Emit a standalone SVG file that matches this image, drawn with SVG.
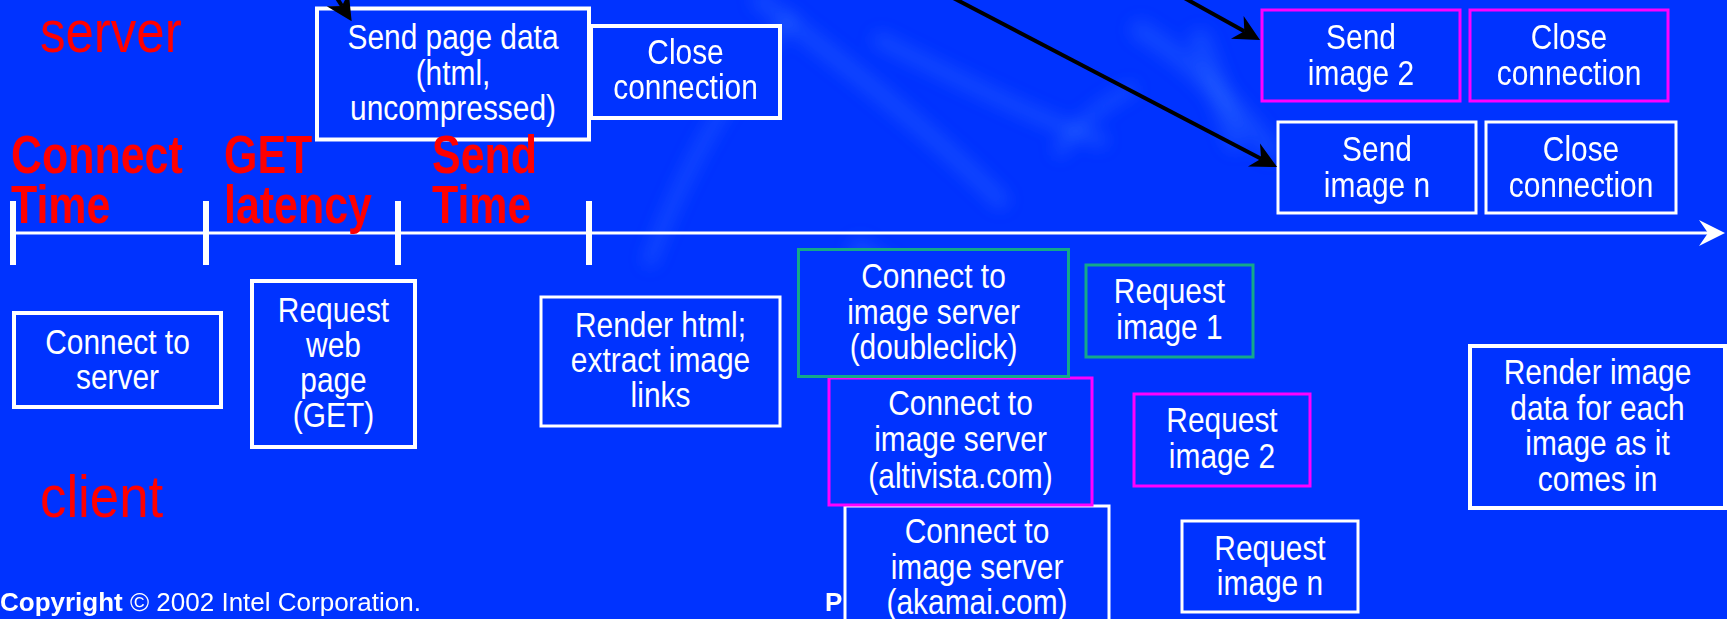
<svg xmlns="http://www.w3.org/2000/svg" width="1727" height="619" viewBox="0 0 1727 619">
  <style>
    .bg { fill: #0033ff; }
    .box { fill: #0033ff; stroke: #ffffff; stroke-width: 4; }
    .box.thin { stroke-width: 3; }
    .box.mag { stroke: #ff00ff; stroke-width: 3; }
    .box.teal { stroke: #14a88a; stroke-width: 3; }
    .bx { font-family: "Liberation Sans", Arial, sans-serif; font-size: 36px; fill: #ffffff; text-anchor: middle; }
    .side { font-family: "Liberation Sans", Arial, sans-serif; font-size: 60px; fill: #ff0000; }
    .phase { font-family: "Liberation Sans", Arial, sans-serif; font-size: 53px; font-weight: bold; fill: #ff0000; }
    .foot { font-family: "Liberation Sans", Arial, sans-serif; font-size: 26px; fill: #ffffff; }
    .tick { fill: #ffffff; }
    .axis { stroke: #ffffff; stroke-width: 3; fill: none; }
    .flow { stroke: #000000; stroke-width: 4; fill: none; }
    .swirl { fill: none; stroke: #4d8cff; stroke-linecap: round; opacity: 0.22; }
  </style>
  <defs>
    <marker id="arrowBlack" markerUnits="userSpaceOnUse" viewBox="-10 -14 28 28" markerWidth="28" markerHeight="28" refX="0" refY="0" orient="auto">
      <path d="M18,0 L-8,-13 L0,0 L-8,13 Z" fill="#000000"/>
    </marker>
    <marker id="arrowAxis" markerUnits="userSpaceOnUse" viewBox="-10 -14 28 28" markerWidth="28" markerHeight="28" refX="0" refY="0" orient="auto">
      <path d="M17,0 L-9,-13 L0,0 L-9,13 Z" fill="#ffffff"/>
    </marker>
    <filter id="soft" x="-20%" y="-20%" width="140%" height="140%">
      <feGaussianBlur stdDeviation="8"/>
    </filter>
  </defs>

  <!-- slide background with faint ribbon texture -->
  <rect class="bg" x="0" y="0" width="1727" height="619"/>
  <g id="texture" filter="url(#soft)">
    <path class="swirl" stroke-width="18" d="M760,0 C840,60 930,130 1000,200"/>
    <path class="swirl" stroke-width="16" d="M880,40 C960,80 1040,120 1100,140"/>
    <path class="swirl" stroke-width="20" d="M1140,30 C1190,60 1240,110 1270,150"/>
    <path class="swirl" stroke-width="14" d="M1060,150 C1080,120 1110,100 1130,90"/>
    <path class="swirl" stroke-width="14" d="M650,260 C680,180 720,100 790,20"/>
    <path class="swirl" stroke-width="22" d="M1200,40 C1215,80 1225,110 1235,140"/>
    <path class="swirl" stroke-width="24" d="M860,250 C900,280 940,300 990,320"/>
  </g>

  <!-- time axis -->
  <g id="timeline">
    <path class="axis" d="M13,233 H1708" marker-end="url(#arrowAxis)"/>
    <rect class="tick" x="10" y="201" width="6" height="64"/>
    <rect class="tick" x="203" y="201" width="6" height="64"/>
    <rect class="tick" x="395" y="201" width="6" height="64"/>
    <rect class="tick" x="586" y="201" width="6" height="64"/>
  </g>

  <!-- server side -->
  <g id="send-page-data">
    <rect class="box" x="317" y="8.5" width="272" height="131"/>
    <g transform="translate(453 0) scale(0.83 1)">
      <text class="bx"><tspan x="0" y="49">Send page data</tspan><tspan x="0" y="85">(html,</tspan><tspan x="0" y="120">uncompressed)</tspan></text>
    </g>
  </g>
  <g id="close-connection-page">
    <rect class="box" x="591" y="26" width="189" height="92"/>
    <g transform="translate(685.5 0) scale(0.83 1)">
      <text class="bx"><tspan x="0" y="64.5">Close</tspan><tspan x="0" y="99.5">connection</tspan></text>
    </g>
  </g>
  <g id="send-image-2">
    <rect class="box mag" x="1262" y="10" width="198" height="91"/>
    <g transform="translate(1361 0) scale(0.83 1)">
      <text class="bx"><tspan x="0" y="49">Send</tspan><tspan x="0" y="85">image 2</tspan></text>
    </g>
  </g>
  <g id="close-connection-2">
    <rect class="box mag" x="1470" y="10" width="198" height="91"/>
    <g transform="translate(1569 0) scale(0.83 1)">
      <text class="bx"><tspan x="0" y="49">Close</tspan><tspan x="0" y="85">connection</tspan></text>
    </g>
  </g>
  <g id="send-image-n">
    <rect class="box thin" x="1278" y="122" width="198" height="91"/>
    <g transform="translate(1377 0) scale(0.83 1)">
      <text class="bx"><tspan x="0" y="161">Send</tspan><tspan x="0" y="197">image n</tspan></text>
    </g>
  </g>
  <g id="close-connection-n">
    <rect class="box thin" x="1486" y="122" width="190" height="91"/>
    <g transform="translate(1581 0) scale(0.83 1)">
      <text class="bx"><tspan x="0" y="161">Close</tspan><tspan x="0" y="197">connection</tspan></text>
    </g>
  </g>

  <!-- client side -->
  <g id="connect-to-server">
    <rect class="box" x="14" y="313" width="207" height="94"/>
    <g transform="translate(117.5 0) scale(0.83 1)">
      <text class="bx"><tspan x="0" y="354">Connect to</tspan><tspan x="0" y="389">server</tspan></text>
    </g>
  </g>
  <g id="request-web-page">
    <rect class="box" x="252" y="281" width="163" height="166"/>
    <g transform="translate(333.5 0) scale(0.83 1)">
      <text class="bx"><tspan x="0" y="322">Request</tspan><tspan x="0" y="357">web</tspan><tspan x="0" y="392">page</tspan><tspan x="0" y="427">(GET)</tspan></text>
    </g>
  </g>
  <g id="render-html">
    <rect class="box thin" x="541" y="297" width="239" height="129"/>
    <g transform="translate(660.5 0) scale(0.83 1)">
      <text class="bx"><tspan x="0" y="337">Render html;</tspan><tspan x="0" y="372">extract image</tspan><tspan x="0" y="407">links</tspan></text>
    </g>
  </g>
  <g id="connect-akamai">
    <rect class="box thin" x="845" y="506" width="264" height="130"/>
    <g transform="translate(977 0) scale(0.83 1)">
      <text class="bx"><tspan x="0" y="543">Connect to</tspan><tspan x="0" y="579">image server</tspan><tspan x="0" y="614">(akamai.com)</tspan></text>
    </g>
  </g>
  <g id="connect-altivista">
    <rect class="box mag" x="829" y="378" width="263" height="127"/>
    <g transform="translate(960.5 0) scale(0.83 1)">
      <text class="bx"><tspan x="0" y="415">Connect to</tspan><tspan x="0" y="451.5">image server</tspan><tspan x="0" y="488">(altivista.com)</tspan></text>
    </g>
  </g>
  <g id="connect-doubleclick">
    <rect class="box teal" x="798.5" y="249.5" width="270" height="127"/>
    <g transform="translate(933.5 0) scale(0.83 1)">
      <text class="bx"><tspan x="0" y="288">Connect to</tspan><tspan x="0" y="324">image server</tspan><tspan x="0" y="359">(doubleclick)</tspan></text>
    </g>
  </g>
  <g id="request-image-1">
    <rect class="box teal" x="1086" y="265" width="167" height="92"/>
    <g transform="translate(1169.5 0) scale(0.83 1)">
      <text class="bx"><tspan x="0" y="303">Request</tspan><tspan x="0" y="339">image 1</tspan></text>
    </g>
  </g>
  <g id="request-image-2">
    <rect class="box mag" x="1134" y="394" width="176" height="92"/>
    <g transform="translate(1222 0) scale(0.83 1)">
      <text class="bx"><tspan x="0" y="432">Request</tspan><tspan x="0" y="468">image 2</tspan></text>
    </g>
  </g>
  <g id="request-image-n">
    <rect class="box thin" x="1182" y="521" width="176" height="91"/>
    <g transform="translate(1270 0) scale(0.83 1)">
      <text class="bx"><tspan x="0" y="560">Request</tspan><tspan x="0" y="595">image n</tspan></text>
    </g>
  </g>
  <g id="render-images">
    <rect class="box" x="1470" y="346" width="255" height="162"/>
    <g transform="translate(1597.5 0) scale(0.83 1)">
      <text class="bx"><tspan x="0" y="384">Render image</tspan><tspan x="0" y="420">data for each</tspan><tspan x="0" y="455">image as it</tspan><tspan x="0" y="491">comes in</tspan></text>
    </g>
  </g>

  <!-- side and phase labels -->
  <g id="labels">
    <g transform="translate(40 0) scale(0.85 1)"><text class="side" x="0" y="52">server</text></g>
    <g transform="translate(40 0) scale(0.88 1)"><text class="side" x="0" y="517">client</text></g>
    <g transform="translate(11 0) scale(0.81 1)"><text class="phase"><tspan x="0" y="173">Connect</tspan><tspan x="0" y="223">Time</tspan></text></g>
    <g transform="translate(224 0) scale(0.81 1)"><text class="phase"><tspan x="0" y="173">GET</tspan><tspan x="0" y="223">latency</tspan></text></g>
    <g transform="translate(432 0) scale(0.81 1)"><text class="phase"><tspan x="0" y="173">Send</tspan><tspan x="0" y="223">Time</tspan></text></g>
  </g>

  <!-- requests arriving at the server -->
  <g id="connectors">
    <path class="flow" d="M335,-5 L342,6" marker-end="url(#arrowBlack)"/>
    <path class="flow" d="M1170,-10 L1244.3,31.3" marker-end="url(#arrowBlack)"/>
    <path class="flow" d="M938,-10 L1261.1,158.7" marker-end="url(#arrowBlack)"/>
  </g>

  <!-- footer -->
  <g id="footer">
    <text class="foot" x="0" y="611"><tspan font-weight="bold">Copyright</tspan> © 2002 Intel Corporation.</text>
    <text class="foot" x="825" y="611" font-weight="bold">P</text>
  </g>
</svg>
